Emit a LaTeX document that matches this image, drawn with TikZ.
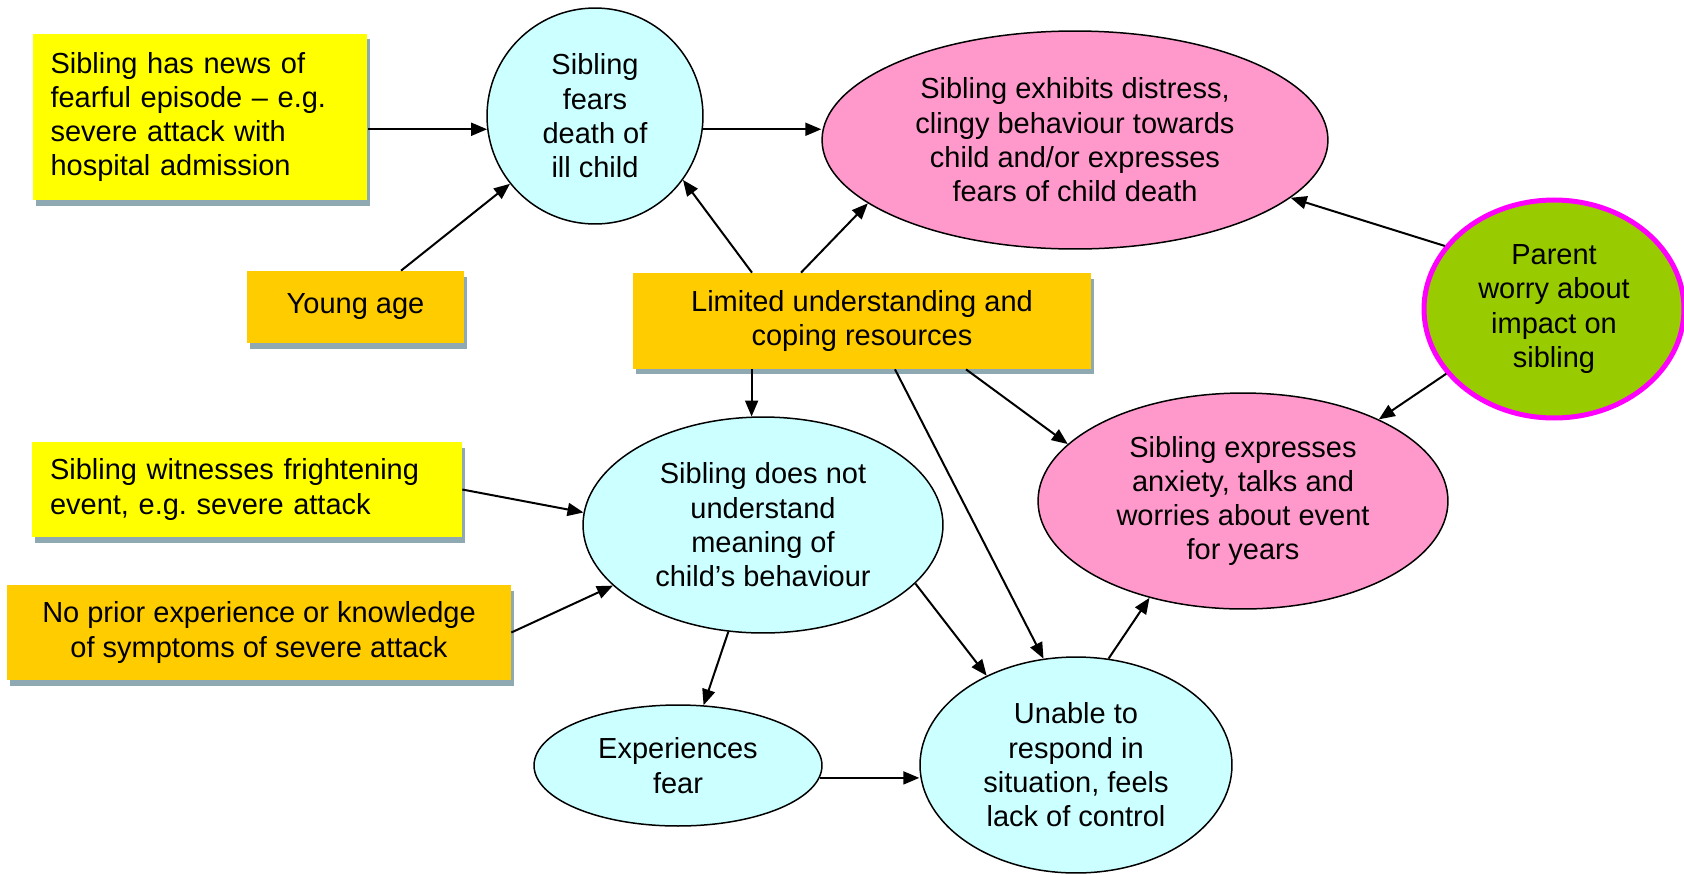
\documentclass[tikz,border=0pt]{standalone}
\usepackage{fontspec}
\setmainfont{Liberation Sans}
\usetikzlibrary{shapes.geometric,shadows,arrows.meta,calc}

\definecolor{boxyellow}{RGB}{255,255,0}
\definecolor{boxorange}{RGB}{255,204,0}
\definecolor{paleblue}{RGB}{204,255,255}
\definecolor{rosepink}{RGB}{255,153,204}
\definecolor{leafgreen}{RGB}{153,204,0}
\definecolor{brightmagenta}{RGB}{255,0,255}
\definecolor{shadowgray}{RGB}{143,169,178}

\tikzset{
  every node/.style = {font=\fontsize{16.5pt}{19.5pt}\selectfont},
  cause/.style      = {shape=rectangle, inner sep=0pt, align=center,
                       drop shadow={shadow xshift=0.06cm, shadow yshift=-0.11cm,
                                    fill=shadowgray, opacity=1}},
  trigger/.style    = {cause, fill=boxyellow, align=left, inner xsep=0.36cm},
  factor/.style     = {cause, fill=boxorange},
  state/.style      = {ellipse, draw, line width=0.03cm, inner sep=0pt,
                       align=center, fill=paleblue},
  outcome/.style    = {state, fill=rosepink},
  parentnode/.style = {ellipse, draw=brightmagenta, line width=0.1cm, inner sep=0pt,
                       align=center, fill=leafgreen},
  arr/.style        = {-{Triangle[length=0.32cm,width=0.26cm]}, line width=0.04cm}
}

\begin{document}
\begin{tikzpicture}[x=0.02cm, y=-0.02cm]
  \useasboundingbox (0,0) rectangle (1684,873);

  \node [trigger, text width=5.98cm, minimum height=3.34cm] (news) at (200,117)
        {Sibling has news of\\ fearful episode -- e.g.\\ severe attack with\\ hospital admission};
  \node [state, minimum width=4.32cm, minimum height=4.32cm] (fears) at (595,116)
        {Sibling\\ fears\\ death of\\ ill child};
  \node [outcome, minimum width=10.12cm, minimum height=4.36cm] (distress) at (1075,140)
        {Sibling exhibits distress,\\ clingy behaviour towards\\ child and/or expresses\\ fears of child death};
  \node [factor, minimum width=4.34cm, minimum height=1.44cm] (young) at (355.5,307)
        {Young age};
  \node [factor, minimum width=9.16cm, minimum height=1.92cm] (limited) at (862,321)
        {Limited understanding and\\ coping resources};
  \node [parentnode, minimum width=5.2cm, minimum height=4.36cm] (parent) at (1554,309)
        {Parent\\ worry about\\ impact on\\ sibling};
  \node [trigger, text width=7.88cm, minimum height=1.9cm] (witness) at (247,489.5)
        {Sibling witnesses frightening\\ event, e.g.\ severe attack};
  \node [factor, minimum width=10.08cm, minimum height=1.9cm] (noprior) at (259,632.5)
        {No prior experience or knowledge\\ of symptoms of severe attack};
  \node [state, minimum width=7.2cm, minimum height=4.32cm] (notgrasp) at (763,525)
        {Sibling does not\\ understand\\ meaning of\\ child's behaviour};
  \node [outcome, minimum width=8.2cm, minimum height=4.32cm] (anxiety) at (1243,501)
        {Sibling expresses\\ anxiety, talks and\\ worries about event\\ for years};
  \node [state, minimum width=5.76cm, minimum height=2.42cm] (fear) at (678,765.5)
        {Experiences\\ fear};
  \node [state, minimum width=6.24cm, minimum height=4.32cm] (unable) at (1076,765)
        {Unable to\\ respond in\\ situation, feels\\ lack of control};

  \draw [arr] (news.east |- fears.187) -- (fears.187);
  \draw [arr] (young) -- (fears);
  \draw [arr] (fears.-7) -- (fears.-7 -| distress.west);
  \draw [arr] ($(limited.north)+(-110,0)$) -- (fears.-36);
  \draw [arr] ($(limited.north)+(-61,0)$) -- (distress.197);
  \draw [arr] (parent.150) -- (distress.-15);
  \draw [arr] (parent.211) -- (anxiety.31);
  \draw [arr] (limited.south -| notgrasp.96) -- (notgrasp.96);
  \draw [arr] ($(limited.south)+(33,0)$) -- (unable.107);
  \draw [arr] ($(limited.south)+(104,0)$) -- (anxiety.162);
  \draw [arr] (witness.east) -- (notgrasp.176);
  \draw [arr] (noprior.east) -- (notgrasp.202);
  \draw [arr] (notgrasp.252) -- (fear.67);
  \draw [arr] (notgrasp.-21) -- (unable.135);
  \draw [arr] (fear.-5) -- (fear.-5 -| unable.west);
  \draw [arr] (unable.73) -- (anxiety.226);
\end{tikzpicture}
\end{document}
